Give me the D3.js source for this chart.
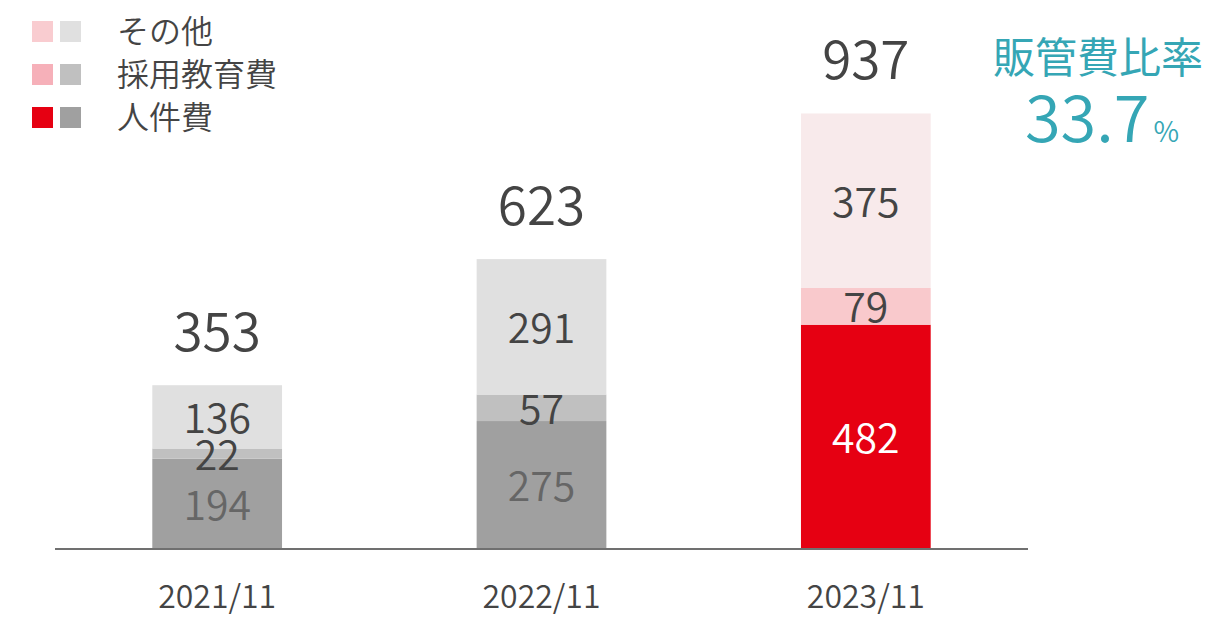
<!DOCTYPE html>
<html>
<head>
    <meta charset="utf-8">
    <title>販管費</title>
    <script src="https://d3js.org/d3.v7.min.js"></script>
    <style>
        body { margin: 0; background: #fff; }
        text { font-family: "Noto Sans CJK JP", "Noto Sans", sans-serif; font-weight: 350; }
    </style>
</head>
<body>
<div id="chart"></div>
<script type="text/javascript">
    let w = 1210;
    let h = 617;

    // データ
    let years = ["2021/11", "2022/11", "2023/11"];
    let jinkenhi = [194, 275, 482];
    let saiyo = [22, 57, 79];
    let sonota = [136, 291, 375];
    let totals = [353, 623, 937];
    let seriesNames = ["人件費", "採用教育費", "その他"];
    let ratioLabel = "販管費比率";
    let ratioValue = "33.7";

    // 色 (グレー = 過去年, 赤系 = 最新年)
    let grayColors = ["#a0a0a0", "#c0c0c0", "#e0e0e0"];
    let redColors = ["#e60012", "#f9c9cc", "#f8eaeb"];
    let legendRed = ["#e60012", "#f6b0b9", "#f9ccd0"];
    let labelColorsGray = ["#666", "#444", "#444"];
    let labelColorsRed = ["#fff", "#444", "#444"];

    let rows = years.map(function(y, i) {
        return { year: y, s0: jinkenhi[i], s1: saiyo[i], s2: sonota[i], total: totals[i], idx: i };
    });
    let stack = d3.stack().keys(["s0", "s1", "s2"])(rows);

    let xScale = d3.scaleBand()
        .domain(years)
        .range([55, 1028])
        .paddingInner(0.6)
        .paddingOuter(0.3);

    let yScale = d3.scaleLinear()
        .domain([0, 937])
        .range([549, 113]);

    let svg = d3.select("#chart")
        .append("svg")
        .attr("width", w)
        .attr("height", h);

    let last = years.length - 1;

    // 棒
    stack.forEach(function(layer, k) {
        svg.append("g").selectAll("rect")
            .data(layer)
            .enter()
            .append("rect")
            .attr("x", function(d) { return xScale(d.data.year); })
            .attr("y", function(d) { return yScale(d[1]); })
            .attr("width", xScale.bandwidth())
            .attr("height", function(d) { return yScale(d[0]) - yScale(d[1]); })
            .attr("fill", function(d) { return d.data.idx === last ? redColors[k] : grayColors[k]; });
    });

    // 内部ラベル
    stack.forEach(function(layer, k) {
        svg.append("g").selectAll("text")
            .data(layer)
            .enter()
            .append("text")
            .attr("x", function(d) { return xScale(d.data.year) + xScale.bandwidth() / 2; })
            .attr("y", function(d) { return (yScale(d[0]) + yScale(d[1])) / 2 + 16; })
            .attr("text-anchor", "middle")
            .attr("font-size", "41px")
            .attr("fill", function(d) { return d.data.idx === last ? labelColorsRed[k] : labelColorsGray[k]; })
            .text(function(d) { return d[1] - d[0]; });
    });

    // 合計
    svg.append("g").selectAll("text")
        .data(rows)
        .enter()
        .append("text")
        .attr("x", function(d) { return xScale(d.year) + xScale.bandwidth() / 2; })
        .attr("y", function(d) { return yScale(d.total) - 34; })
        .attr("text-anchor", "middle")
        .attr("font-size", "53px")
        .attr("fill", "#444")
        .text(function(d) { return d.total; });

    // x軸
    let xAxis = svg.append("g")
        .attr("transform", "translate(0,549)")
        .call(d3.axisBottom(xScale).tickSize(0).tickPadding(36));
    xAxis.select(".domain").attr("stroke", "#707070").attr("stroke-width", 2)
        .attr("d", "M55,0H1028");
    xAxis.selectAll("text")
        .attr("font-size", "32px")
        .attr("fill", "#444")
        .style("font-family", "'Noto Sans CJK JP', sans-serif");

    // 凡例
    let legend = svg.append("g");
    let legendRows = [2, 1, 0];
    legendRows.forEach(function(k, i) {
        let cy = 31 + i * 43;
        legend.append("rect").attr("x", 32).attr("y", cy - 10).attr("width", 21).attr("height", 21)
            .attr("fill", legendRed[k]);
        legend.append("rect").attr("x", 60).attr("y", cy - 10).attr("width", 21).attr("height", 21)
            .attr("fill", grayColors[k]);
        legend.append("text").attr("x", 117).attr("y", cy + 12)
            .attr("font-size", "32px").attr("fill", "#444")
            .text(seriesNames[k]);
    });

    // 販管費比率
    svg.append("text")
        .attr("x", 1098).attr("y", 73)
        .attr("text-anchor", "middle")
        .attr("font-size", "42px")
        .attr("font-weight", 400)
        .style("font-weight", 400)
        .attr("fill", "#35a6b5")
        .text(ratioLabel);
    let ratio = svg.append("text")
        .attr("x", 1102).attr("y", 142)
        .attr("text-anchor", "middle")
        .attr("fill", "#35a6b5");
    ratio.append("tspan").attr("font-size", "65px").text(ratioValue);
    ratio.append("tspan").attr("font-size", "28px").attr("dx", 4).text("%");
</script>
</body>
</html>
